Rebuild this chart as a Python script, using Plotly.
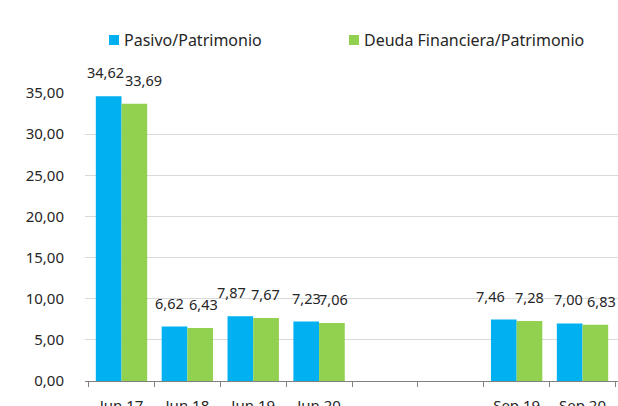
import plotly.graph_objects as go

categories = ["Jun 17", "Jun 18", "Jun 19", "Jun 20", " ", "  ", "Sep 19", "Sep 20"]
pasivo = [34.62, 6.62, 7.87, 7.23, None, None, 7.46, 7.00]
deuda = [33.69, 6.43, 7.67, 7.06, None, None, 7.28, 6.83]
series_names = ["Pasivo/Patrimonio", "Deuda Financiera/Patrimonio"]
colors = ["#00B0F0", "#92D050"]
y_ticks = [0, 5, 10, 15, 20, 25, 30, 35]

# small horizontal nudges of the data labels (pixels), as placed in the original
label_nudge_pasivo = [-3, -5, -9, 0, 0, 0, -13, -1]
label_nudge_deuda = [9, 3, -1, 1, 0, 0, 0, 6]

FONT = "Noto Sans"
TXT = "#262626"

W, H = 618, 406
ML, MR, MT, MB = 85, 0, 93, 25
PW, PH = W - ML - MR, H - MT - MB

def px_x(p):
    return (p - ML) / PW

def px_y(p):
    return (H - MB - p) / PH

fig = go.Figure()
for name, vals, col in zip(series_names, [pasivo, deuda], colors):
    fig.add_trace(go.Bar(x=categories, y=vals, name=name, showlegend=False,
                         hoverinfo="skip",
                         marker=dict(color=col, line=dict(width=0))))

annotations = []
for vals, shift, nudges in [(pasivo, -13, label_nudge_pasivo), (deuda, 13, label_nudge_deuda)]:
    for c, v, n in zip(categories, vals, nudges):
        if v is None:
            continue
        annotations.append(dict(
            x=c, y=v, xref="x", yref="y", text=f"{v:.2f}".replace(".", ","),
            showarrow=False, xanchor="center", yanchor="bottom", xshift=shift + n, yshift=12,
            font=dict(family=FONT, size=14.5, color=TXT)))

# custom legend
shapes = []
legend_left = [109, 349]
for name, col, lx in zip(series_names, colors, legend_left):
    shapes.append(dict(type="rect", xref="paper", yref="paper",
                       x0=px_x(lx), x1=px_x(lx + 10), y0=px_y(45), y1=px_y(35),
                       fillcolor=col, line=dict(width=0)))
    annotations.append(dict(x=px_x(lx + 13), y=px_y(40), xref="paper", yref="paper",
                            text=name, showarrow=False, xanchor="left", yanchor="middle",
                            font=dict(family=FONT, size=16, color=TXT)))

fig.update_layout(
    width=W, height=H,
    margin=dict(l=ML, r=MR, t=MT, b=MB, autoexpand=False),
    paper_bgcolor="white", plot_bgcolor="white",
    barmode="group", bargap=0.22, bargroupgap=0,
    separators=",.",
    font=dict(family=FONT, size=15, color=TXT),
    showlegend=False,
    annotations=annotations,
    shapes=shapes,
)
fig.update_yaxes(range=[0, 35], tickvals=y_ticks, tickformat=".2f", showgrid=True,
                 gridcolor="#D9D9D9", gridwidth=1, zeroline=False, showline=False,
                 ticks="", ticklabelstandoff=20, tickfont=dict(size=15, color=TXT))
fig.update_xaxes(type="category", showline=True, linecolor="#808080", linewidth=1,
                 ticks="outside", ticklen=5, tickcolor="#808080", tickson="boundaries",
                 tickfont=dict(size=15, color=TXT), ticklabelstandoff=11, showgrid=False)
fig.write_html("out.html", config={"displayModeBar": False},
               post_script="document.body.style.margin='0';document.body.style.overflow='hidden';")
